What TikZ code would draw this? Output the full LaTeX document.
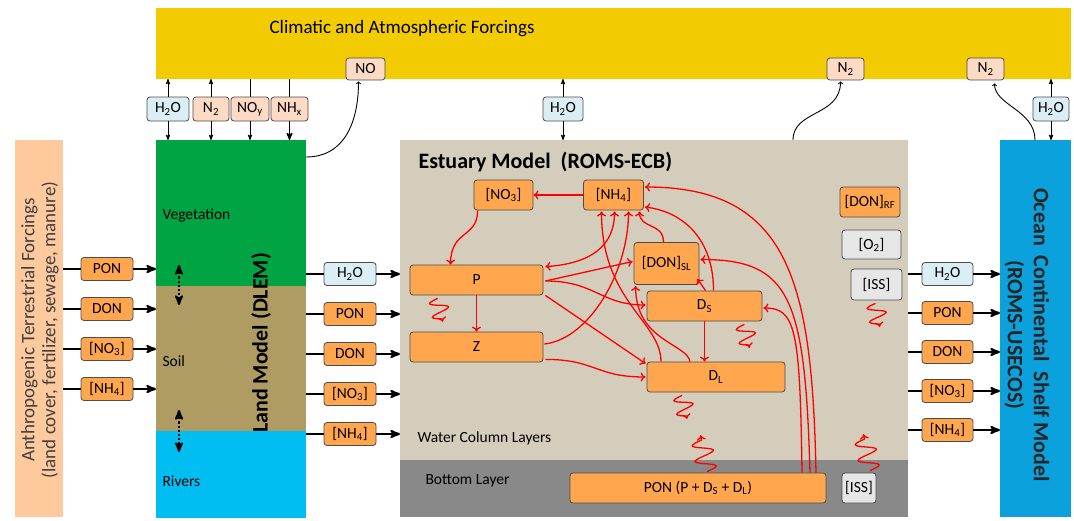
\documentclass[tikz,border=0pt]{standalone}
\usepackage{fontspec}
\setmainfont{Carlito}
\usetikzlibrary{positioning, arrows, arrows.meta}

\definecolor{atmocol}{HTML}{F2CB00}
\definecolor{anthcol}{HTML}{FDC99D}
\definecolor{vegcol}{HTML}{00A443}
\definecolor{soilcol}{HTML}{AE9C62}
\definecolor{rivcol}{HTML}{00BEF2}
\definecolor{estcol}{HTML}{D5CDBB}
\definecolor{botcol}{HTML}{898989}
\definecolor{oceancol}{HTML}{0AA1DC}
\definecolor{poolcol}{HTML}{FFA64F}
\definecolor{gascol}{HTML}{FDDAC4}
\definecolor{watercol}{HTML}{DAEEF4}
\definecolor{inertcol}{HTML}{E6E6E6}

\tikzset{
>=stealth', % filled heads for the black fluxes
node distance=40pt, % spacing of the stacked flux boxes
band/.style={inner sep=0pt, outer sep=0pt}, % plain coloured areas
box/.style={draw=black!70, line width=0.8pt, rounded corners=3pt, inner sep=0pt,
            font=\fontsize{15.5}{17}\selectfont},
pool/.style={box, fill=poolcol},
water/.style={box, fill=watercol},
gas/.style={box, fill=gascol},
inert/.style={box, fill=inertcol},
flowbox/.style={minimum width=52pt, minimum height=23pt},
topbox/.style={minimum height=24pt},
label/.style={anchor=west, font=\fontsize{15.5}{17}\selectfont},
link/.style={draw=black, line width=2.2pt}, % thick lateral exchange
vlink/.style={draw=black, line width=0.9pt}, % thin vertical exchange
redtip/.tip={To[length=5pt, width=9pt, line width=1.3pt]},
flux/.style={draw=red, line width=1.3pt, -redtip}, % estuary N cycle
wavy/.style={draw=red, line width=1.3pt, -redtip},
dotarrow/.style={<->, dotted, line width=2.2pt},
sink/.pic={\draw[wavy] (0,0) sin (3.5,9) cos (7,0) sin (10.5,-9) cos (14,0) sin (17.5,9) cos (21,0) -- (24,0);},
rise/.pic={\draw[wavy] (0,0) sin (4,10) cos (8,0) sin (12,-10) cos (16,0) sin (20,10) cos (24,0) sin (28,-10) cos (32,0) -- (37,0);},
}

\begin{document}
\begin{tikzpicture}[x=1pt, y=-1pt]
\useasboundingbox (0,0) rectangle (1074,520);

% forcings and model domains
\node[band, fill=atmocol, minimum width=915pt, minimum height=71pt] (atmo) at (613.5,43.5) {};
\node[anchor=west, font=\fontsize{19}{22}\selectfont] (atmotxt) at (266,29) {Climatic and Atmospheric Forcings};

\node[band, fill=anthcol, minimum width=48pt, minimum height=377pt] (anthro) at (39,328.5) {};
\node[rotate=90, align=center, text=black!75, font=\fontsize{19}{21}\selectfont] (anthtxt) at (40,330)
    {Anthropogenic Terrestrial Forcings\\(land cover, fertilizer, sewage, manure)};

\node[band, fill=vegcol, anchor=north west, minimum width=150pt, minimum height=146pt] (veg) at (156,140) {};
\node[band, fill=soilcol, anchor=north west, minimum width=150pt, minimum height=145pt] (soil) at (156,286) {};
\node[band, fill=rivcol, anchor=north west, minimum width=150pt, minimum height=87pt] (rivers) at (156,431) {};
\node[label] (vegtxt) at (159,215) {Vegetation};
\node[label] (soiltxt) at (159,361) {Soil};
\node[label] (rivtxt) at (159,481) {Rivers};
\node[rotate=90, font=\bfseries\fontsize{22}{24}\selectfont] (landtxt) at (261,343) {Land Model (DLEM)};

\node[band, fill=estcol, anchor=north west, minimum width=508pt, minimum height=377pt] (estuary) at (400,140) {};
\node[band, fill=botcol, anchor=south west, minimum width=508pt, minimum height=57pt] (bottom) at (400,517) {};
\node[anchor=west, font=\bfseries\fontsize{22}{24}\selectfont] (esttxt) at (415,162) {Estuary Model\ \ (ROMS-ECB)};
\node[label] (wctxt) at (414,438) {Water Column Layers};
\node[label] (bltxt) at (422,481) {Bottom Layer};

\node[band, fill=oceancol, anchor=north west, minimum width=71pt, minimum height=377pt] (ocean) at (1000,140) {};
\node[rotate=-90, align=center, text=black!85, font=\bfseries\fontsize{22}{26}\selectfont] (oceantxt) at (1027,335)
    {Ocean\ \ Continental\ \ Shelf Model\\(ROMS-USECOS)};

% atmospheric exchange
\node[water, topbox, minimum width=42pt] (h2oa) at (168,109) {H\textsubscript{2}O};
\node[gas, topbox, minimum width=36pt] (n2a) at (211,109) {N\textsubscript{2}};
\node[gas, topbox, minimum width=38pt] (noy) at (250,109) {NO\textsubscript{y}};
\node[gas, topbox, minimum width=37pt] (nhx) at (289.5,109) {NH\textsubscript{x}};
\node[water, topbox, minimum width=40pt] (h2oe) at (563,109) {H\textsubscript{2}O};
\node[water, topbox, minimum width=36pt] (h2oo) at (1051,109) {H\textsubscript{2}O};
\node[gas, minimum width=39pt, minimum height=22pt] (no) at (365.5,69) {NO};
\node[gas, minimum width=37pt, minimum height=22pt] (n2e) at (845.5,69) {N\textsubscript{2}};
\node[gas, minimum width=37pt, minimum height=22pt] (n2o) at (985.5,69) {N\textsubscript{2}};

\draw[vlink, ->] (h2oa.north) -- (atmo.south -| h2oa);
\draw[vlink, ->] (h2oa.south) -- (veg.north -| h2oa);
\draw[vlink, ->] (n2a.north) -- (atmo.south -| n2a);
\draw[vlink, ->] (n2a.south) -- (veg.north -| n2a);
\draw[vlink] (noy.north) -- (atmo.south -| noy);
\draw[vlink, ->] (noy.south) -- (veg.north -| noy);
\draw[vlink, line width=1.6pt] (nhx.north) -- (atmo.south -| nhx);
\draw[vlink, line width=1.4pt, ->] (nhx.south) -- (veg.north -| nhx);
\draw[vlink, ->] (h2oe.north) -- (atmo.south -| h2oe);
\draw[vlink, ->] (h2oe.south) -- (estuary.north -| h2oe);
\draw[vlink, ->] (h2oo.north) -- (atmo.south -| h2oo);
\draw[vlink, ->] (h2oo.south) -- (ocean.north -| h2oo);

\draw[vlink, -to] ([shift={(0,17)}]veg.north east) .. controls +(40,0) and +(0,38) .. ([shift={(-7,1)}]no.south);
\draw[vlink, -to] ([shift={(139,0)}]estuary.north) .. controls +(0,-30) and +(0,35) .. ([shift={(-5,1)}]n2e.south);
\draw[vlink, -to] ([shift={(35,0)}]ocean.north west) .. controls +(0,-30) and +(0,22) .. ([shift={(9,3)}]n2o.south);

\draw[dotarrow] ([shift={(23,-21)}]soil.north west) -- ++(0,40);
\draw[dotarrow] ([shift={(23,-21)}]rivers.north west) -- ++(0,42);

% terrestrial inputs
\node[pool, flowbox] (lpon) at (107,269) {PON};
\node[pool, flowbox, below of=lpon] (ldon) {DON};
\node[pool, flowbox, below of=ldon] (lno3) {[NO\textsubscript{3}]};
\node[pool, flowbox, below of=lno3] (lnh4) {[NH\textsubscript{4}]};

\draw[link]
    (anthro.east |- lpon) -- (lpon.west)
    (anthro.east |- ldon) -- (ldon.west)
    (anthro.east |- lno3) -- (lno3.west)
    (anthro.east |- lnh4) -- (lnh4.west);
\draw[link, ->] (lpon.east) -- (veg.west |- lpon);
\draw[link, ->] (ldon.east) -- (veg.west |- ldon);
\draw[link, ->] (lno3.east) -- (veg.west |- lno3);
\draw[link, ->] (lnh4.east) -- (veg.west |- lnh4);

% land to estuary
\node[water, flowbox] (mh2o) at (350,274) {H\textsubscript{2}O};
\node[pool, flowbox, below of=mh2o] (mpon) {PON};
\node[pool, flowbox, below of=mpon] (mdon) {DON};
\node[pool, flowbox, below of=mdon] (mno3) {[NO\textsubscript{3}]};
\node[pool, flowbox, below of=mno3] (mnh4) {[NH\textsubscript{4}]};

\draw[link]
    (veg.east |- mh2o) -- (mh2o.west)
    (veg.east |- mpon) -- (mpon.west)
    (veg.east |- mdon) -- (mdon.west)
    (veg.east |- mno3) -- (mno3.west)
    (veg.east |- mnh4) -- (mnh4.west);
\draw[link, ->] (mh2o.east) -- (estuary.west |- mh2o);
\draw[link, ->] (mpon.east) -- (estuary.west |- mpon);
\draw[link, ->] (mdon.east) -- (estuary.west |- mdon);
\draw[link, ->] (mno3.east) -- (estuary.west |- mno3);
\draw[link, ->] (mnh4.east) -- (estuary.west |- mnh4);

% estuary to shelf
\node[water, flowbox, minimum width=51pt, node distance=39pt] (oh2o) at (947.5,274) {H\textsubscript{2}O};
\node[pool, flowbox, minimum width=51pt, node distance=39pt, below of=oh2o] (opon) {PON};
\node[pool, flowbox, minimum width=51pt, node distance=39pt, below of=opon] (odon) {DON};
\node[pool, flowbox, minimum width=51pt, node distance=39pt, below of=odon] (ono3) {[NO\textsubscript{3}]};
\node[pool, flowbox, minimum width=51pt, node distance=39pt, below of=ono3] (onh4) {[NH\textsubscript{4}]};

\draw[link]
    (estuary.east |- oh2o) -- (oh2o.west)
    (estuary.east |- opon) -- (opon.west)
    (estuary.east |- odon) -- (odon.west)
    (estuary.east |- ono3) -- (ono3.west)
    (estuary.east |- onh4) -- (onh4.west);
\draw[link, ->] (oh2o.east) -- (ocean.west |- oh2o);
\draw[link, ->] (opon.east) -- (ocean.west |- opon);
\draw[link, ->] (odon.east) -- (ocean.west |- odon);
\draw[link, ->] (ono3.east) -- (ocean.west |- ono3);
\draw[link, ->] (onh4.east) -- (ocean.west |- onh4);

% estuary nitrogen pools
\node[pool, minimum width=59pt, minimum height=30pt] (no3) at (503.5,195) {[NO\textsubscript{3}]};
\node[pool, minimum width=60pt, minimum height=30pt, right of=no3, node distance=110pt] (nh4) {[NH\textsubscript{4}]};
\node[pool, minimum width=133pt, minimum height=30pt] (p) at (476.5,280) {P};
\node[pool, minimum width=133pt, minimum height=30pt, below of=p, node distance=67pt] (z) {Z};
\node[pool, minimum width=65pt, minimum height=42pt] (donsl) at (666.5,263.5) {[DON]\textsubscript{SL}};
\node[pool, minimum width=115pt, minimum height=30pt] (ds) at (704.5,306) {D\textsubscript{S}};
\node[pool, minimum width=138pt, minimum height=30pt] (dl) at (716,377) {D\textsubscript{L}};
\node[pool, minimum width=256pt, minimum height=30pt] (pon) at (698,488) {PON (P + D\textsubscript{S} + D\textsubscript{L})};
\node[inert, minimum width=34pt, minimum height=30pt] (issb) at (859,488) {[ISS]};
\node[pool, minimum width=60pt, minimum height=30pt] (donrf) at (870,202) {[DON]\textsubscript{RF}};
\node[inert, minimum width=59pt, minimum height=29pt] (o2) at (871.5,244.5) {[O\textsubscript{2}]};
\node[inert, minimum width=51pt, minimum height=31pt] (iss) at (876.5,284.5) {[ISS]};

% transformations
\draw[flux, line width=1.8pt] (nh4) -- (no3);
\draw[flux] ([xshift=4pt]no3.south west) .. controls +(0,28) and +(0,-35) .. ([xshift=41pt]p.north west);
\draw[flux, redtip-redtip] ([shift={(2,2)}]p.north east) .. controls +(45,-3) and +(0,35) .. ([shift={(1,1)}]nh4.south);
\draw[flux] ([shift={(1,-3)}]z.east) .. controls +(45,-5) and +(0,60) .. ([shift={(15,1)}]nh4.south);
\draw[flux] ([shift={(-55,0)}]dl.north) .. controls +(0,-40) and +(0,90) .. ([shift={(-12,1)}]nh4.south);
\draw[flux] ([shift={(-26,0)}]dl.north) .. controls +(-3,-18) and +(0,55) .. ([shift={(2,1)}]donsl.south west);
\draw[flux] ([shift={(-3,0)}]donsl.north) .. controls +(0,-20) and +(0,18) .. ([shift={(26,1)}]nh4.south);
\draw[flux] ([shift={(9,0)}]ds.north) .. controls +(0,-50) and +(40,5) .. ([shift={(1,12)}]nh4.east);
\draw[flux] ([shift={(118,0)}]pon.north) .. controls +(-4,-190) and +(145,0) .. ([shift={(1,-8)}]nh4.east);
\draw[flux] ([shift={(112,0)}]pon.north) .. controls +(-5,-175) and +(90,0) .. ([shift={(1,-4)}]donsl.east);
\draw[flux] ([shift={(104,0)}]pon.north) .. controls +(-2,-145) and +(32,0) .. ([shift={(1,2)}]ds.east);
\draw[flux] ([shift={(1,0)}]ds.north) -- ([shift={(-2,-6)}]donsl.south east);
\draw[flux] ([shift={(2,1)}]p.east) -- ([shift={(-1,-2)}]donsl.west);
\draw[flux] ([shift={(2,1)}]p.east) .. controls +(50,0) and +(-45,0) .. ([shift={(-1,-1)}]ds.west);
\draw[flux] ([shift={(2,0)}]p.south east) -- ([shift={(-1,2)}]dl.north west);
\draw[flux] ([shift={(2,-3)}]z.south east) .. controls +(50,0) and +(-50,0) .. ([shift={(-1,0)}]dl.west);
\draw[flux, line width=1.6pt] (ds.south) -- (ds.south |- dl.north);
\draw[flux, line width=1.6pt] (p) -- (z);

% sinking and resuspension
\pic[rotate=-78] at ([shift={(28,3)}]p.south west) {sink};
\pic[rotate=-78] at ([shift={(-18,3)}]ds.south east) {sink};
\pic[rotate=-78] at ([shift={(-34,3)}]dl.south) {sink};
\pic[rotate=-80] at ([shift={(-1,3)}]iss.south) {sink};
\pic[rotate=100] at ([shift={(9,-1)}]pon.north) {rise};
\pic[rotate=100] at ([shift={(11,-2)}]issb.north) {rise};
\end{tikzpicture}
\end{document}
